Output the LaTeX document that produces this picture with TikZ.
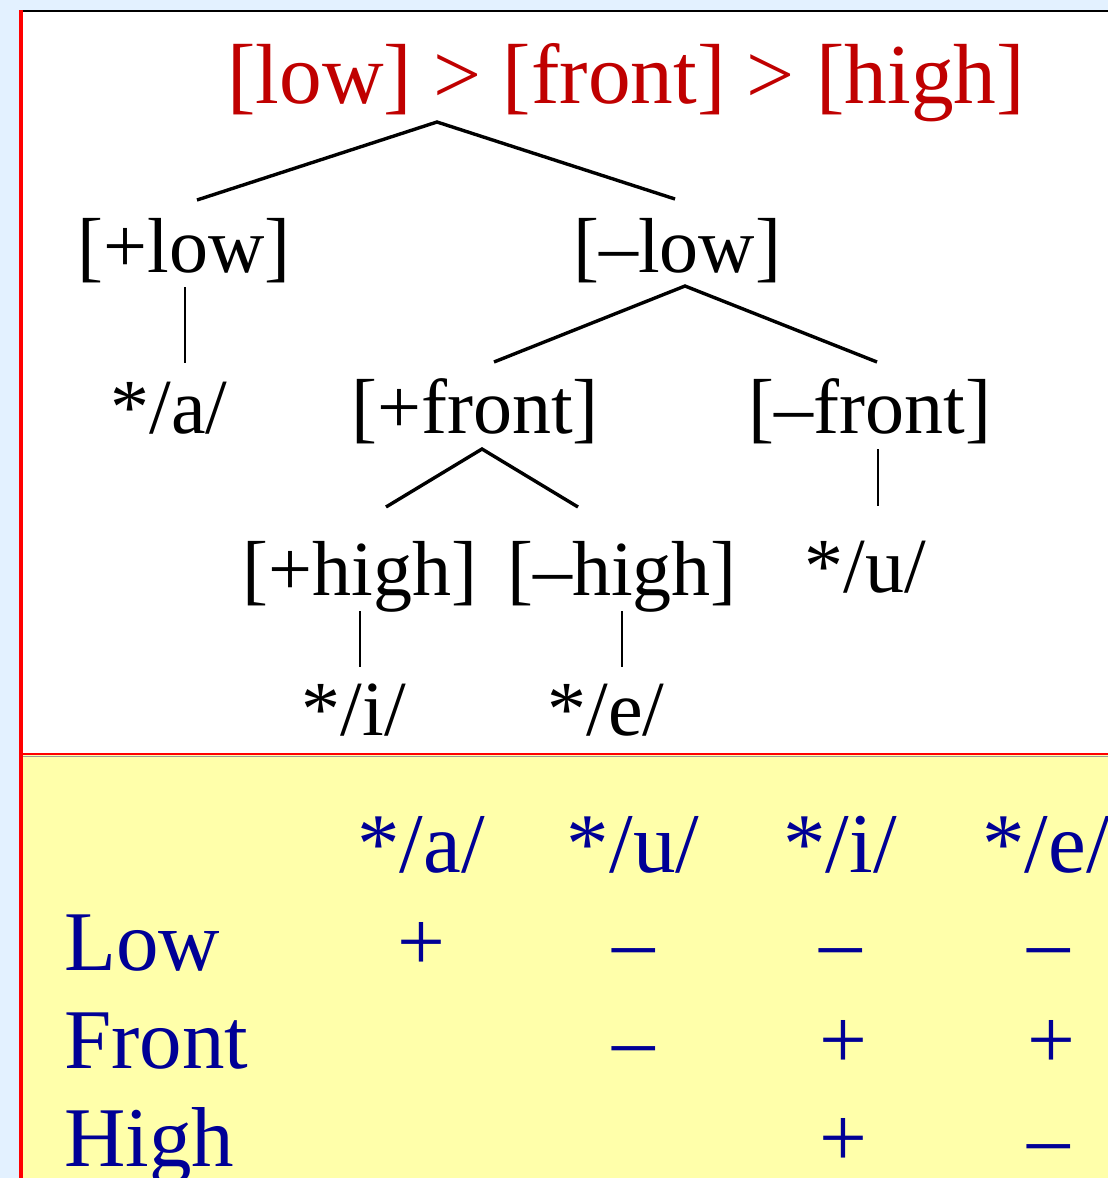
\documentclass[tikz,border=0pt]{standalone}
\usepackage{fontspec}
\setmainfont{Liberation Serif}
\definecolor{bgblue}{RGB}{227,241,255}
\definecolor{paleyellow}{RGB}{255,255,170}
\definecolor{titlered}{RGB}{192,0,0}
\definecolor{navy}{RGB}{0,0,150}
\definecolor{framered}{RGB}{255,0,0}
\tikzset{
  treelabel/.style={inner sep=0pt, anchor=base, font=\fontsize{78}{80}\selectfont},
  titlelabel/.style={inner sep=0pt, anchor=base, text=titlered, font=\fontsize{85.3}{88}\selectfont},
  tabcell/.style={inner sep=0pt, anchor=base, text=navy, font=\fontsize{85}{88}\selectfont},
  tabrow/.style={tabcell, anchor=base west},
  branch/.style={line width=3.4pt, black},
  stem/.style={line width=1.8pt, black},
}
\begin{document}
\begin{tikzpicture}[x=1pt,y=-1pt]
\useasboundingbox (0,0) rectangle (1108,1178);
% backgrounds
\fill[bgblue] (0,0) rectangle (1108,1178);
\fill[white] (21,11) rectangle (1108,754);
\fill[paleyellow] (21,754) rectangle (1108,1178);
\draw[black!40, line width=1pt] (21,756) -- (1108,756);
\draw[framered, line width=2.6pt] (21,754) -- (1108,754);
\draw[black, line width=2.4pt] (20,11) -- (1108,11);
\draw[framered, line width=4pt] (21,10) -- (21,1178);

% tree
\node[titlelabel] (title) at (626,103) {[low] > [front] > [high]};
\node[treelabel] (lowp) at (184,272) {[+low]};
\node[treelabel] (lowm) at (677,272) {[–low]};
\node[treelabel] (a) at (169,433) {*/a/};
\node[treelabel] (frontp) at (475,433) {[+front]};
\node[treelabel] (frontm) at (870,433) {[–front]};
\node[treelabel] (highp) at (360,595) {[+high]};
\node[treelabel] (highm) at (622,595) {[–high]};
\node[treelabel] (u) at (865,592) {*/u/};
\node[treelabel] (i) at (354,735) {*/i/};
\node[treelabel] (e) at (606,735) {*/e/};

\draw[branch] ([shift={(13,-72)}]lowp.base) -- ([shift={(-189,19)}]title.base) -- ([shift={(-2,-73)}]lowm.base);
\draw[stem] ([shift={(1,15)}]lowp.base) -- ([shift={(16,-70)}]a.base);
\draw[branch] ([shift={(19,-71)}]frontp.base) -- ([shift={(8,14)}]lowm.base) -- ([shift={(7,-71)}]frontm.base);
\draw[branch] ([shift={(26,-88)}]highp.base) -- ([shift={(7,16)}]frontp.base) -- ([shift={(-44,-88)}]highm.base);
\draw[stem] ([shift={(8,16)}]frontm.base) -- ([shift={(13,-86)}]u.base);
\draw[stem] ([shift={(0,16)}]highp.base) -- ([shift={(6,-68)}]i.base);
\draw[stem] ([shift={(0,16)}]highm.base) -- ([shift={(16,-68)}]e.base);

% table
\node[tabcell] (ha) at (421,872) {*/a/};
\node[tabcell] (hu) at (633,872) {*/u/};
\node[tabcell] (hi) at (840,872) {*/i/};
\node[tabcell] (he) at (1046,872) {*/e/};
\node[tabrow] (rlow) at (64,970) {Low};
\node[tabrow] (rfront) at (64,1068) {Front};
\node[tabrow] (rhigh) at (64,1166) {High};
\node[tabcell] (la) at (421,970) {+};
\node[tabcell] (lu) at (634,970) {–};
\node[tabcell] (li) at (841,970) {–};
\node[tabcell] (le) at (1049,970) {–};
\node[tabcell] (fu) at (634,1068) {–};
\node[tabcell] (fi) at (843,1068) {+};
\node[tabcell] (fe) at (1051,1068) {+};
\node[tabcell] (hhi) at (843,1166) {+};
\node[tabcell] (hhe) at (1049,1166) {–};
\end{tikzpicture}
\end{document}
